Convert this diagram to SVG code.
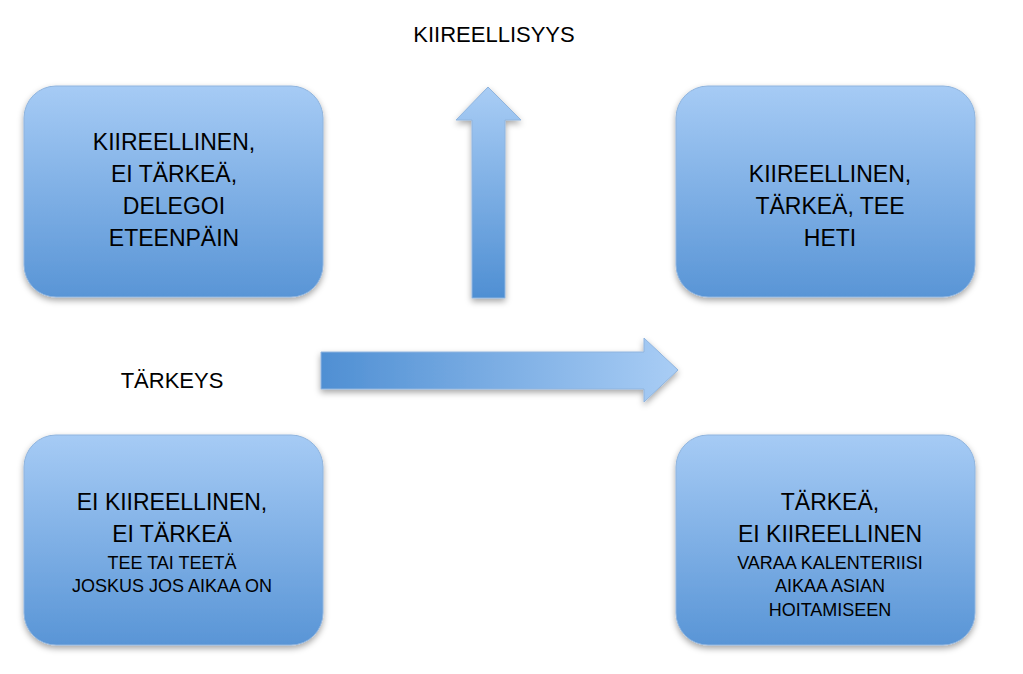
<svg xmlns="http://www.w3.org/2000/svg" width="1023" height="674" viewBox="0 0 1023 674">
<style>
.box{fill:url(#g);stroke:#8fb4de;stroke-width:1;filter:url(#sh)}
text{font-family:"Liberation Sans",Arial,sans-serif;fill:#000;text-anchor:middle}
.t{font-size:23px}.s{font-size:18px}.l{font-size:22px}
</style>
<defs>
<linearGradient id="g" x1="0" y1="0" x2="0" y2="1"><stop offset="0" stop-color="#a6cbf5"/><stop offset="1" stop-color="#5995d6"/></linearGradient>
<linearGradient id="gv" x1="0" y1="1" x2="0" y2="0"><stop offset="0" stop-color="#4f8fd3"/><stop offset="1" stop-color="#a9cdf5"/></linearGradient>
<linearGradient id="gh" x1="0" y1="0" x2="1" y2="0"><stop offset="0" stop-color="#4f8fd3"/><stop offset="1" stop-color="#a9cdf5"/></linearGradient>
<filter id="sh" x="-10%" y="-10%" width="120%" height="125%"><feDropShadow dx="0" dy="3" stdDeviation="3" flood-color="#000" flood-opacity="0.35"/></filter>
</defs>
<rect width="1023" height="674" fill="#fff"/>
<text class="l" x="494" y="42">KIIREELLISYYS</text>
<text class="l" x="172" y="388">TÄRKEYS</text>
<g id="connectors" filter="url(#sh)">
<path d="M472 298V120H456L488 87L521 120H505V298Z" fill="url(#gv)" stroke="#8fb4de"/>
<path d="M321 352H644V338L678 370L644 402V389H321Z" fill="url(#gh)" stroke="#8fb4de"/>
</g>
<g id="n1"><rect class="box" x="24" y="86" width="299" height="211" rx="32"/>
<text class="t" x="174" y="150">KIIREELLINEN,</text><text class="t" x="174" y="182">EI TÄRKEÄ,</text><text class="t" x="174" y="214">DELEGOI</text><text class="t" x="174" y="246">ETEENPÄIN</text></g>
<g id="n2"><rect class="box" x="676" y="86" width="299" height="211" rx="32"/>
<text class="t" x="830" y="182">KIIREELLINEN,</text><text class="t" x="830" y="214">TÄRKEÄ, TEE</text><text class="t" x="830" y="246">HETI</text></g>
<g id="n3"><rect class="box" x="24" y="435" width="299" height="210" rx="32"/>
<text class="t" x="172" y="510">EI KIIREELLINEN,</text><text class="t" x="172" y="542">EI TÄRKEÄ</text><text class="s" x="172" y="569">TEE TAI TEETÄ</text><text class="s" x="172" y="592">JOSKUS JOS AIKAA ON</text></g>
<g id="n4"><rect class="box" x="676" y="435" width="299" height="210" rx="32"/>
<text class="t" x="830" y="510">TÄRKEÄ,</text><text class="t" x="830" y="542">EI KIIREELLINEN</text><text class="s" x="830" y="569">VARAA KALENTERIISI</text><text class="s" x="830" y="592">AIKAA ASIAN</text><text class="s" x="830" y="616">HOITAMISEEN</text></g>
</svg>
